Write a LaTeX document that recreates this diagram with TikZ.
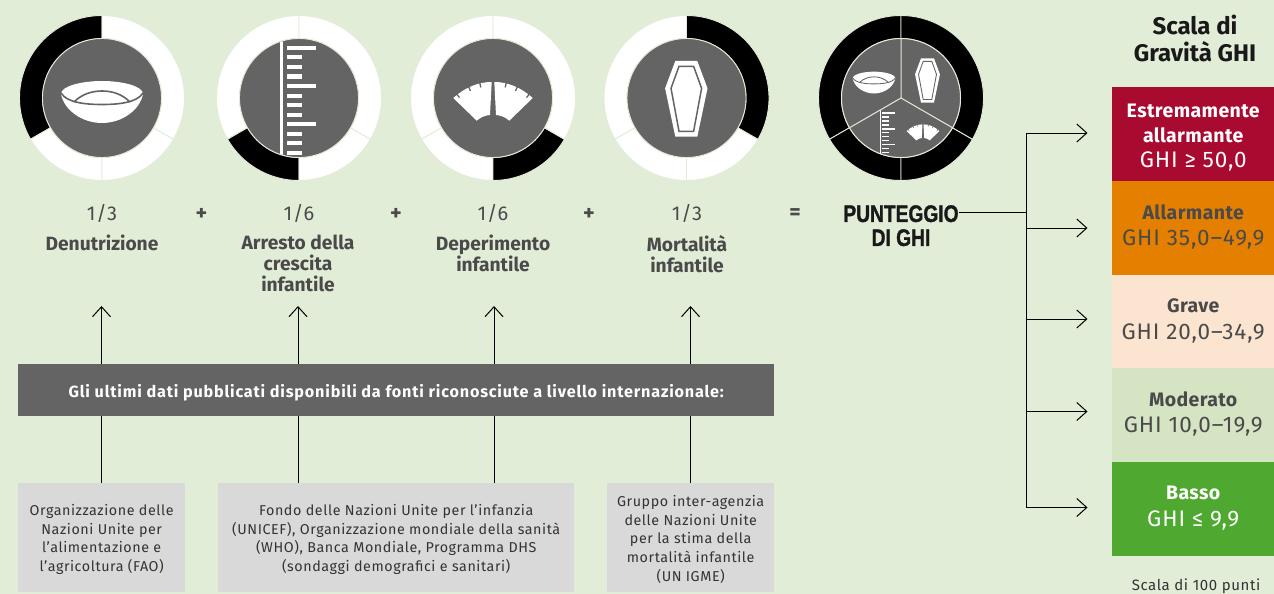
\documentclass[tikz,border=0pt]{standalone}
\usepackage{fontspec}
\setmainfont{Fira Sans}
\newfontfamily\condfont[FakeStretch=0.8,BoldFeatures={FakeStretch=0.8,FakeBold=1.2}]{Liberation Sans}
\newfontfamily\spr[LetterSpace=4]{Fira Sans}
\newfontfamily\spb[LetterSpace=2]{Fira Sans}
\usetikzlibrary{arrows.meta}
\definecolor{bgc}{HTML}{E2EDD8}
\definecolor{grayc}{HTML}{646464}
\definecolor{boxc}{HTML}{D9D9D9}
\definecolor{txtc}{HTML}{4A4A4A}
\definecolor{sevA}{HTML}{A80A30}
\definecolor{sevB}{HTML}{E57F00}
\definecolor{sevC}{HTML}{FCE5D0}
\definecolor{sevD}{HTML}{D5E4C3}
\definecolor{sevE}{HTML}{4FA830}
\tikzset{
 frac/.style={text=txtc,font=\spr\fontsize{20}{21}\selectfont,inner sep=0pt},
 crit/.style={text=txtc,font=\fontsize{19.2}{21}\selectfont\bfseries,align=center,inner sep=0pt,anchor=north},
 signn/.style={text=txtc,font=\fontsize{22}{20}\selectfont\bfseries,inner sep=0pt},
 srcbox/.style={fill=boxc,text=black!80,font=\spr\fontsize{14.3}{18.6}\selectfont,align=center,inner sep=0pt,anchor=north west,minimum height=109pt},
 sevbox/.style={inner sep=0pt,anchor=north west,minimum width=162pt,minimum height=94pt,align=center,font=\spr\fontsize{22.5}{26.5}\selectfont},
 conn/.style={line width=1pt,black},
 arr/.style={conn,-{Straight Barb[length=10pt,width=18pt,line width=1pt]}},
 seg/.style={draw=bgc,line width=.9pt},
}
\newcommand{\sevb}[1]{{\spb\fontsize{19.5}{26.5}\selectfont\bfseries #1}}
\newcommand{\dn}{\rule{0pt}{14.5pt}}
\newcommand{\dnn}{\rule{0pt}{21pt}}
\newcommand{\up}{\rule[-6pt]{0pt}{0pt}}
\newcommand{\ringseg}[3]{\fill[#1,seg] (#2:82.5) arc (#2:#3:82.5) -- (#3:59.5) arc (#3:#2:59.5) -- cycle;}
\newcommand{\bowlicon}[3]{\begin{scope}[shift={(#1,#2)},scale=#3]
 \fill[white] (-41,-4) .. controls (-41,-12) and (-20,-17) .. (0,-17) .. controls (20,-17) and (41,-12) .. (41,-4) .. controls (38,12) and (20,25) .. (0,25) .. controls (-20,25) and (-38,12) .. (-41,-4) -- cycle;
 \draw[grayc,line width=#3*1.6pt] (-41,-5) .. controls (-35,5) and (-15,6.5) .. (0,6.5) .. controls (15,6.5) and (35,5) .. (41,-5);
 \draw[grayc,line width=#3*1.6pt] (-28,4) .. controls (-20,-4) and (-10,-7) .. (0,-7) .. controls (10,-7) and (20,-4) .. (28,4);
\end{scope}}
\newcommand{\coffinicon}[3]{\begin{scope}[shift={(#1,#2)},scale=#3]
 \fill[white] (-11,-37) -- (11,-37) -- (21.2,-9.7) -- (11,38.7) -- (-11,38.7) -- (-21.2,-9.7) -- cycle;
 \draw[grayc,line width=#3*1.5pt] (-7.3,-31.7) -- (7.3,-31.7) -- (15.3,-9.7) -- (7.3,33.3) -- (-7.3,33.3) -- (-15.3,-9.7) -- cycle;
\end{scope}}
\newcommand{\scaleicon}[3]{\begin{scope}[shift={(#1,#2)},scale=#3]
 \fill[white] (-39.7,0) .. controls (-28,-10.5) and (-15,-16) .. (-1.3,-16) -- (-3,17) .. controls (-8,17.5) and (-12,19) .. (-16.3,22.7) -- cycle;
 \fill[white] (39.7,0) .. controls (28,-10.5) and (15,-16) .. (1.3,-16) -- (3,17) .. controls (8,17.5) and (12,19) .. (16.3,22.7) -- cycle;
 \foreach \xa/\ya/\xb/\yb in {-36.6/-4.3/-33.5/-.4,-24.6/-11.6/-22.5/-7.1,-13.3/-15.5/-12.2/-10.6,36.6/-4.3/33.5/-.4,24.6/-11.6/22.5/-7.1,13.3/-15.5/12.2/-10.6}
  \draw[grayc,line width=#3*1.3pt] (\xa,\ya) -- (\xb,\yb);
\end{scope}}
\newcommand{\rulericon}[3]{\begin{scope}[shift={(#1,#2)},scale=#3]
 \fill[white] (-19,-70) rectangle (-16,70);
 \foreach \i in {0,...,11}{
  \pgfmathtruncatemacro{\m}{mod(\i,4)}
  \pgfmathsetmacro{\tt}{-50+\i*9.5}
  \ifnum\m=0 \fill[white] (-12,\tt-2) rectangle (17,\tt+2); \else \fill[white] (-12,\tt-2) rectangle (3,\tt+2); \fi
 }
\end{scope}}
\begin{document}
\begin{tikzpicture}[x=1pt,y=-1pt]
\fill[bgc] (0,0) rectangle (1274,594);
\useasboundingbox (0,0) rectangle (1274,594);

\foreach \cx/\ba/\bb in {102/90/210,299/210/270,493/270/330,686.5/330/450}{
 \begin{scope}[shift={(\cx,98)},x=1pt,y=1pt]
  \foreach \a/\b in {90/210,210/270,270/330,330/450}{
   \pgfmathtruncatemacro{\isb}{\a==\ba ? 1 : 0}
   \ifnum\isb=1 \ringseg{black}{\a}{\b}\else \ringseg{white}{\a}{\b}\fi
  }
  \fill[grayc,draw=bgc,line width=.9pt] (0,0) circle (59.5);
 \end{scope}
}
\bowlicon{102}{98}{1}
\begin{scope}
 \clip (299,98) circle (59);
 \rulericon{299}{98}{1}
\end{scope}
\scaleicon{493}{98}{1}
\coffinicon{686.3}{98}{1}

\begin{scope}[shift={(901,98)},x=1pt,y=1pt]
 \foreach \a/\b in {90/210,210/270,270/330,330/450}{\ringseg{black}{\a}{\b}}
 \fill[grayc,draw=bgc,line width=1pt] (0,0) circle (59.5);
 \draw[bgc,line width=1pt] (0,0) -- (90:59.5) (0,0) -- (210:59.5) (0,0) -- (330:59.5);
\end{scope}
\bowlicon{874}{80.5}{.52}
\coffinicon{927.5}{80}{.587}
\scaleicon{923}{131}{.413}
\begin{scope}
 \clip (901,98.5) -- (849.5,128) arc[start angle=150,end angle=90,radius=59] -- cycle;
 \rulericon{887.5}{133.7}{.42}
\end{scope}

\node[frac] (f1) at (102,213) {1/3};
\node[frac] (f2) at (299,213) {1/6};
\node[frac] (f3) at (493,213) {1/6};
\node[frac] (f4) at (687,213) {1/3};
\node[crit] (c1) at (102,234.5) {Denutrizione};
\node[crit] (c2) at (298,235) {Arresto della\\crescita\\infantile};
\node[crit] (c3) at (493,235) {Deperimento\\infantile};
\node[crit] (c4) at (687,235) {Mortalità\\infantile};
\node[signn] (p1) at (201.5,214) {+};
\node[signn] (p2) at (396,214) {+};
\node[signn] (p3) at (589,214) {+};
\node[signn] (eq) at (795,214) {=};
\node[inner sep=0pt,align=center,font=\condfont\fontsize{24}{24}\selectfont\bfseries,text=black!90,anchor=north] (tot) at (901,205) {PUNTEGGIO\\DI GHI};

\node[fill=grayc,text=white,inner sep=0pt,minimum width=756pt,minimum height=52pt,anchor=north west,font=\spb\fontsize{16.2}{18}\selectfont\bfseries] (band) at (18,364) {\rule{0pt}{19pt}\addfontfeature{LetterSpace=5}Gli ultimi dati pubblicati disponibili da fonti riconosciute a livello internazionale:};
\node[srcbox,minimum width=167pt] (s1) at (18,483) {\dn Organizzazione delle\\Nazioni Unite per\\l’alimentazione e\\l’agricoltura (FAO)};
\node[srcbox,minimum width=356pt] (s2) at (218,483) {\dn Fondo delle Nazioni Unite per l’infanzia\\(UNICEF), Organizzazione mondiale della sanità\\(WHO), Banca Mondiale, Programma DHS\\(sondaggi demografici e sanitari)};
\node[srcbox,minimum width=167pt] (s3) at (607,483) {\dn Gruppo inter-agenzia\\delle Nazioni Unite\\per la stima della\\mortalità infantile\\(UN IGME)};

\coordinate (t1) at (101.5,306);
\coordinate (t2) at (298,306);
\coordinate (t3) at (494,306);
\coordinate (t4) at (690.5,306);
\foreach \n/\s in {t1/s1,t2/s2,t3/s2,t4/s3}{
 \draw[conn] (\s.north -| \n) -- (band.south -| \n);
 \draw[arr] (band.north -| \n) -- (\n);
}

\node[inner sep=0pt,align=center,font=\fontsize{24}{27}\selectfont\bfseries,text=black!90] (title) at (1195,38.5) {Scala di\\Gravità GHI};
\node[sevbox,fill=sevA,text=white] (v1) at (1112,87) {\dnn\sevb{Estremamente}\\[-1.5pt]\sevb{allarmante}\\[-1.5pt]GHI ≥ 50,0};
\node[sevbox,fill=sevB,text=txtc] (v2) at (1112,181) {\sevb{Allarmante}\\GHI 35,0–49,9\up};
\node[sevbox,fill=sevC,text=txtc] (v3) at (1112,275) {\sevb{Grave}\\GHI 20,0–34,9\up};
\node[sevbox,fill=sevD,text=txtc] (v4) at (1112,368) {\sevb{Moderato}\\GHI 10,0–19,9\up};
\node[sevbox,fill=sevE,text=white] (v5) at (1112,462) {\sevb{Basso}\\GHI ≤ 9,9\up};
\node[inner sep=0pt,text=black!80,font=\spr\fontsize{15}{16}\selectfont] (note) at (1196,586) {Scala di 100 punti};

\coordinate (j) at (1026,212);
\coordinate (a1) at (1087.5,133);
\coordinate (a2) at (1087.5,228);
\coordinate (a3) at (1087.5,319);
\coordinate (a4) at (1087.5,411.5);
\coordinate (a5) at (1087.5,507.5);
\draw[conn] (tot.east |- j) -- (j);
\draw[conn] (j |- a1) -- (j |- a5);
\foreach \n in {a1,a2,a3,a4,a5}{\draw[arr] (j |- \n) -- (\n);}
\end{tikzpicture}
\end{document}
